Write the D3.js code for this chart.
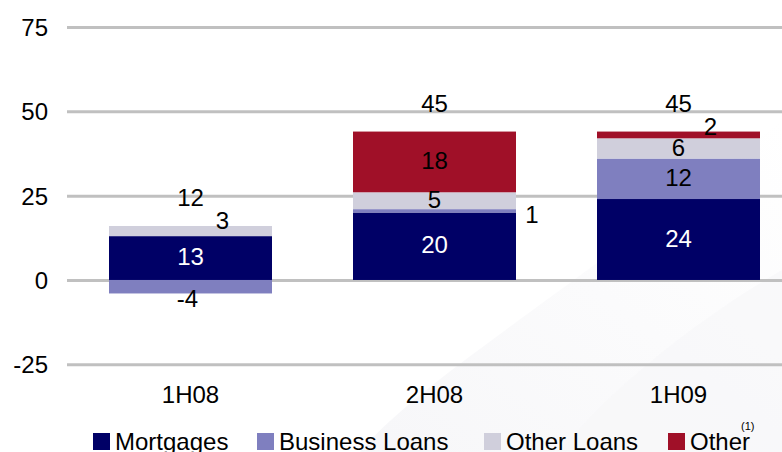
<!DOCTYPE html>
<html><head><meta charset="utf-8">
<script src="https://cdn.jsdelivr.net/npm/d3@7"></script>
<style>
html,body{margin:0;padding:0;background:#fff;}
svg{display:block;font-family:"Liberation Sans",Arial,sans-serif;}
</style></head>
<body><svg id="c" width="782" height="452"></svg>
<script>
const categories = ["1H08", "2H08", "1H09"];
const mortgages = [13, 20, 24];
const businessLoans = [-4, 1, 12];
const otherLoans = [3, 5, 6];
const other = [0, 18, 2];
const totals = [12, 45, 45];
const yTicks = [-25, 0, 25, 50, 75];
const seriesNames = ["Mortgages", "Business Loans", "Other Loans", "Other"];
const colors = ["#000066", "#7f7fbf", "#d0cfdc", "#a01028"];

const svg = d3.select("#c");
const W = 782, H = 452;

// faint background swoosh
const defs = svg.append("defs");
const g1 = defs.append("linearGradient").attr("id","sw").attr("x1","0").attr("y1","1").attr("x2","1").attr("y2","0");
g1.append("stop").attr("offset","0").attr("stop-color","#f3f3f6");
g1.append("stop").attr("offset","1").attr("stop-color","#ffffff");
svg.append("path").attr("d","M360,452 C420,380 560,300 782,120 L782,452 Z").attr("fill","url(#sw)").attr("opacity",0.7);
svg.append("path").attr("d","M560,452 C600,400 680,330 782,270 L782,452 Z").attr("fill","#f6f6f8").attr("opacity",0.6);

const y = d3.scaleLinear().domain([-25, 75]).range([364.3, 27]);
const x = d3.scaleBand().domain(categories).range([68.5, 800.5]).paddingInner(0.332).paddingOuter(0.166);

// gridlines + tick labels
const yAxis = d3.axisLeft(y).tickValues(yTicks).tickSize(-(W - 67)).tickFormat(d => String(d));
const ga = svg.append("g").attr("transform","translate(67,0)").call(yAxis);
ga.select(".domain").remove();
ga.selectAll(".tick line").attr("stroke","#c0c0c0").attr("stroke-width",3);
ga.selectAll(".tick text").attr("x",-19).attr("dy","0.36em").attr("fill","#000").attr("font-size",24).attr("font-family","'Liberation Sans',Arial,sans-serif");

// stack
const rows = categories.map((c,i)=>({cat:c, "Mortgages":mortgages[i], "Business Loans":businessLoans[i], "Other Loans":otherLoans[i], "Other":other[i]}));
const stack = d3.stack().keys(seriesNames).offset(d3.stackOffsetDiverging);
const series = stack(rows);

const gb = svg.append("g");
series.forEach((s,si)=>{
  gb.selectAll(null).data(s.filter(d=>d[1]!==d[0])).enter().append("rect")
    .attr("x",d=>x(d.data.cat)).attr("width",x.bandwidth())
    .attr("y",d=>y(Math.max(d[0],d[1]))).attr("height",d=>Math.abs(y(d[0])-y(d[1])))
    .attr("fill",colors[si]);
});

// segment labels
const bw = x.bandwidth();
const gl = svg.append("g").attr("font-size",24).attr("text-anchor","middle");
series.forEach((s,si)=>{
  s.forEach((d,ci)=>{
    const v = d.data[seriesNames[si]];
    if (v === 0) return;
    const cx = x(d.data.cat) + bw/2;
    let lx = cx, ly = (y(d[0]) + y(d[1]))/2;
    if (v < 0) { lx = cx - 3; ly = y(Math.min(d[0], d[1])) + 6; }
    else if (v < 4) {
      if (si === 1) { lx = x(d.data.cat) + bw + 16; ly = (y(d[0])+y(d[1]))/2 + 5; }
      else { lx = cx + 32; ly = y(d[1]) - 4; }
    }
    gl.append("text").attr("x",lx).attr("y",ly).attr("dy","0.3em")
      .attr("fill", si === 0 ? "#fff" : "#000").text(v);
  });
});

// totals
const topOf = categories.map((c,i)=>d3.max(series, s=>s[i][1]));
categories.forEach((c,i)=>{
  gl.append("text").attr("x",x(c)+bw/2).attr("y",y(topOf[i]) - 20).text(totals[i]);
});

// category labels
const xAxis = d3.axisBottom(x).tickSize(0);
const gx = svg.append("g").attr("transform","translate(0,383)").call(xAxis);
gx.select(".domain").remove();
gx.selectAll(".tick text").attr("fill","#000").attr("font-size",24).attr("dy","0.72em").attr("font-family","'Liberation Sans',Arial,sans-serif");

// legend
const legX = [93, 257, 484, 668];
const lg = svg.append("g").attr("font-size",24);
seriesNames.forEach((n,i)=>{
  lg.append("rect").attr("x",legX[i]).attr("y",433).attr("width",17).attr("height",17).attr("fill",colors[i]);
  lg.append("text").attr("x",legX[i]+22).attr("y",450).attr("fill","#000").text(n);
});
lg.append("text").attr("x",741).attr("y",430).attr("font-size",11).attr("fill","#000").text("(1)");
</script></body></html>
